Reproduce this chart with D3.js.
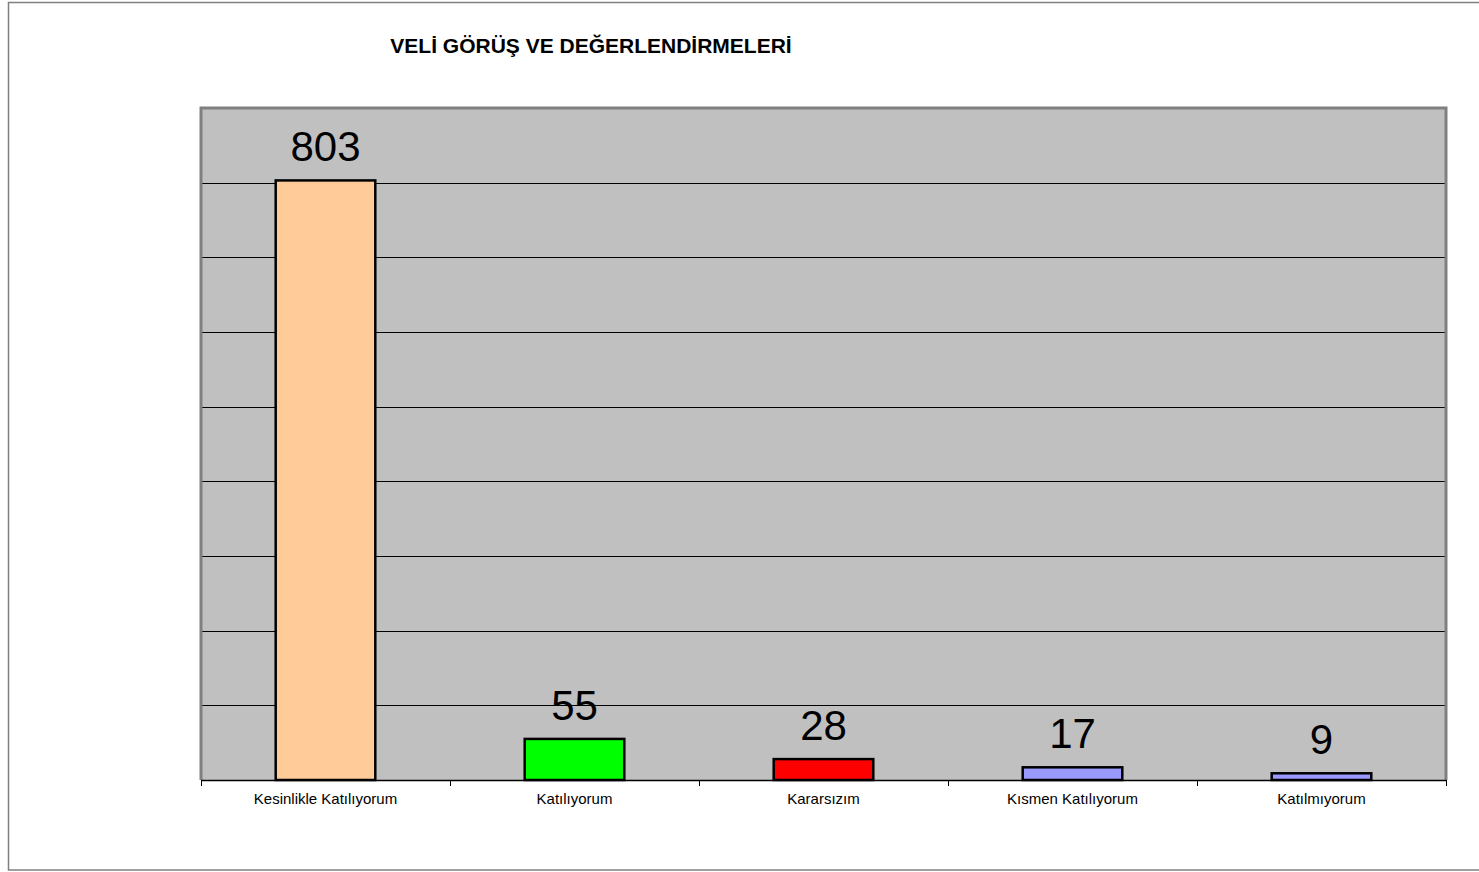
<!DOCTYPE html>
<html>
<head>
<meta charset="utf-8">
<script src="https://cdn.jsdelivr.net/npm/d3@7"></script>
<style>
  body { margin: 0; background: #fff; }
  svg { display: block; font-family: "Liberation Sans", Arial, sans-serif; }
</style>
</head>
<body>
<svg id="chart" width="1479" height="872"></svg>
<script>
const categories = ["Kesinlikle Katılıyorum", "Katılıyorum", "Kararsızım", "Kısmen Katılıyorum", "Katılmıyorum"];
const values = [803, 55, 28, 17, 9];
const barColors = ["#FFCC99", "#00FF00", "#FF0000", "#9999FF", "#9999FF"];
const yTicks = [0, 100, 200, 300, 400, 500, 600, 700, 800, 900];
const title = "VELİ GÖRÜŞ VE DEĞERLENDİRMELERİ";

const MARGIN = { top: 108, right: 33, bottom: 92, left: 201 };
const width = 1479 - MARGIN.left - MARGIN.right;
const height = 872 - MARGIN.top - MARGIN.bottom;

const svg = d3.select("#chart");

// outer frame
svg.append("rect")
  .attr("x", 8.5).attr("y", 2.5)
  .attr("width", 1480).attr("height", 867.5)
  .attr("fill", "none")
  .attr("stroke", "#808080")
  .attr("stroke-width", 1.5);

svg.append("text")
  .attr("x", 591).attr("y", 53)
  .attr("text-anchor", "middle")
  .style("font-size", "21px")
  .style("font-weight", "bold")
  .text(title);

const g = svg.append("g")
  .attr("transform", "translate(" + MARGIN.left + "," + MARGIN.top + ")");

let x = d3.scaleBand()
  .range([0, width])
  .domain(categories);

let y = d3.scaleLinear()
  .domain([0, 900])
  .range([height, 0]);

// plot background
g.append("rect")
  .attr("x", 0).attr("y", 0)
  .attr("width", width).attr("height", height)
  .attr("fill", "#C0C0C0");

// gridlines
g.selectAll(".grid")
  .data(yTicks.slice(1, -1))
  .join("line")
  .attr("x1", 0).attr("x2", width)
  .attr("y1", d => Math.round(y(d)) + 0.5)
  .attr("y2", d => Math.round(y(d)) + 0.5)
  .attr("stroke", "#000")
  .attr("stroke-width", 1);

// plot border
g.append("path")
  .attr("d", "M0," + height + "V0H" + width + "V" + height)
  .attr("fill", "none")
  .attr("stroke", "#808080")
  .attr("stroke-width", 3);

// x axis
const xAxis = g.append("g")
  .attr("transform", "translate(0," + height + ")");
xAxis.append("line")
  .attr("x1", 0).attr("x2", width)
  .attr("y1", 0.5).attr("y2", 0.5)
  .attr("stroke", "#000").attr("stroke-width", 1.5);
xAxis.selectAll(".tick")
  .data(d3.range(categories.length + 1))
  .join("line")
  .attr("x1", i => Math.round(i * x.step()) + 0.5)
  .attr("x2", i => Math.round(i * x.step()) + 0.5)
  .attr("y1", 0).attr("y2", 6)
  .attr("stroke", "#000");
xAxis.selectAll(".lbl")
  .data(categories)
  .join("text")
  .attr("x", d => x(d) + x.bandwidth() / 2)
  .attr("y", 24)
  .attr("text-anchor", "middle")
  .style("font-size", "15px")
  .text(d => d);

const barW = x.step() * 0.4;

g.selectAll(".bar")
  .data(values)
  .join("rect")
  .attr("x", (d, i) => x(categories[i]) + (x.bandwidth() - barW) / 2)
  .attr("y", d => y(d))
  .attr("width", barW)
  .attr("height", d => height - y(d))
  .attr("fill", (d, i) => barColors[i])
  .attr("stroke", "#000")
  .attr("stroke-width", 2.5);

g.selectAll(".val")
  .data(values)
  .join("text")
  .attr("x", (d, i) => x(categories[i]) + x.bandwidth() / 2)
  .attr("y", d => y(d) - 19)
  .attr("text-anchor", "middle")
  .style("font-size", "42px")
  .text(d => d);
</script>
</body>
</html>
